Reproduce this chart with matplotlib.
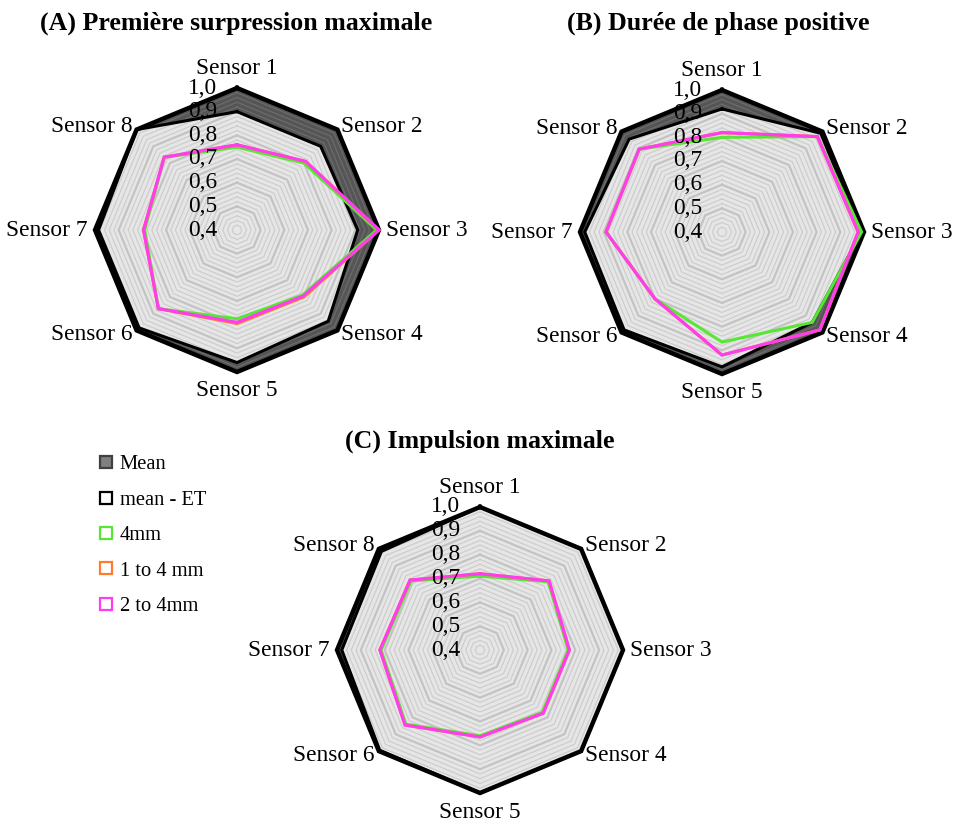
import numpy as np
import matplotlib
matplotlib.use('Agg')
import matplotlib.pyplot as plt
from matplotlib.lines import Line2D

plt.rcParams['font.family'] = ['Liberation Serif', 'DejaVu Serif']

sensors = ['Sensor 1', 'Sensor 2', 'Sensor 3', 'Sensor 4',
           'Sensor 5', 'Sensor 6', 'Sensor 7', 'Sensor 8']
tick_vals = [0.4, 0.5, 0.6, 0.7, 0.8, 0.9, 1.0]
tick_labels = ['0,4', '0,5', '0,6', '0,7', '0,8', '0,9', '1,0']

# (A) Première surpression maximale
mean_a = [1.0, 1.0, 1.0, 1.0, 1.0, 1.0, 1.0, 1.0]
mean_et_a = [0.90, 0.90, 0.91, 0.945, 0.96, 0.985, 0.985, 1.0]
mm4_a = [0.75, 0.80, 0.99, 0.79, 0.775, 0.87, 0.79, 0.835]
mm14_a = [0.76, 0.81, 1.0, 0.80, 0.795, 0.87, 0.795, 0.835]
mm24_a = [0.76, 0.81, 1.0, 0.795, 0.79, 0.87, 0.795, 0.835]

# (B) Durée de phase positive
mean_b = [1.0, 1.0, 1.0, 1.0, 1.0, 1.0, 1.0, 1.0]
mean_et_b = [0.92, 0.99, 0.99, 0.94, 0.97, 0.985, 0.98, 0.955]
mm4_b = [0.80, 0.97, 0.99, 0.94, 0.865, 0.80, 0.89, 0.895]
mm14_b = [0.82, 0.97, 0.975, 0.985, 0.92, 0.80, 0.89, 0.895]
mm24_b = [0.82, 0.97, 0.975, 0.985, 0.92, 0.80, 0.89, 0.895]

# (C) Impulsion maximale
mean_c = [1.0, 1.0, 1.0, 1.0, 1.0, 1.0, 1.0, 1.0]
mean_et_c = [1.0, 1.0, 1.0, 1.0, 1.0, 0.995, 0.98, 0.985]
mm4_c = [0.71, 0.805, 0.77, 0.77, 0.76, 0.84, 0.815, 0.81]
mm14_c = [0.72, 0.81, 0.775, 0.775, 0.765, 0.845, 0.82, 0.815]
mm24_c = [0.72, 0.81, 0.775, 0.775, 0.765, 0.845, 0.82, 0.815]

r_min, r_max = 0.4, 1.0
W, H = 954, 825
L = 1.5

c_green = '#58e634'
c_orange = '#ff7b2e'
c_magenta = '#ff3cf0'


def to_xy(vals):
    vals = np.asarray(vals, dtype=float)
    r = (vals - r_min) / (r_max - r_min)
    ang = np.pi / 2 - 2 * np.pi * np.arange(len(vals)) / len(vals)
    x = r * np.cos(ang)
    y = r * np.sin(ang)
    return np.append(x, x[0]), np.append(y, y[0])


def radar(fig, cx, cy, R, mean, mean_et, s4, s14, s24):
    ax = fig.add_axes([(cx - L * R) / W, 1 - (cy + L * R) / H,
                       2 * L * R / W, 2 * L * R / H])
    ax.set_xlim(-L, L)
    ax.set_ylim(-L, L)
    ax.axis('off')

    x, y = to_xy(mean)
    ax.fill(x, y, color='#555555', lw=0, zorder=1)
    x, y = to_xy(mean_et)
    ax.fill(x, y, color='#e6e6e6', lw=0, zorder=2)

    # gridlines (minor every 0.02, major every 0.1)
    for g in np.arange(0.42, 1.001, 0.02):
        gx, gy = to_xy([g] * 8)
        major = abs(g * 10 - round(g * 10)) < 1e-6
        ax.plot(gx, gy, color='#9a9a9a', lw=1.6 if major else 0.9,
                alpha=0.45 if major else 0.32, zorder=3)

    x, y = to_xy(mean_et)
    ax.plot(x, y, color='black', lw=2.2, zorder=4, solid_joinstyle='miter')
    x, y = to_xy(mean)
    ax.plot(x, y, color='black', lw=3.2, zorder=5, solid_joinstyle='miter')

    for vals, col in [(s4, c_green), (s14, c_orange), (s24, c_magenta)]:
        x, y = to_xy(vals)
        ax.plot(x, y, color=col, lw=2.2, zorder=6, solid_joinstyle='miter')

    # category labels
    vx, vy = to_xy([1.0] * 8)
    for i, name in enumerate(sensors):
        c = vx[i]
        s = vy[i]
        if abs(c) < 0.1:
            off = (0, 19 if s > 0 else -19)
            ha = 'center'
        elif abs(s) < 0.1:
            off = (7 if c > 0 else -7, 0)
            ha = 'left' if c > 0 else 'right'
        else:
            off = (4 if c > 0 else -4, 3 if s > 0 else -4)
            ha = 'left' if c > 0 else 'right'
        ax.annotate(name, xy=(vx[i], vy[i]), xytext=off,
                    textcoords='offset pixels', ha=ha, va='center',
                    fontsize=16.8, zorder=8)

    # value axis labels
    for v, lbl in zip(tick_vals, tick_labels):
        r = (v - r_min) / (r_max - r_min)
        ax.annotate(lbl, xy=(0, r), xytext=(-20, 0), textcoords='offset pixels',
                    ha='right', va='center', fontsize=16.8, zorder=7)
    return ax


fig = plt.figure(figsize=(W / 100, H / 100), dpi=100)

radar(fig, 237, 230, 142, mean_a, mean_et_a, mm4_a, mm14_a, mm24_a)
radar(fig, 722, 232, 142, mean_b, mean_et_b, mm4_b, mm14_b, mm24_b)
radar(fig, 480, 650, 143, mean_c, mean_et_c, mm4_c, mm14_c, mm24_c)

fig.text(236 / W, 1 - 23 / H, '(A) Première surpression maximale',
         ha='center', va='center', fontsize=18.6, fontweight='bold')
fig.text(718 / W, 1 - 23 / H, '(B) Durée de phase positive',
         ha='center', va='center', fontsize=18.6, fontweight='bold')
fig.text(480 / W, 1 - 441 / H, '(C) Impulsion maximale',
         ha='center', va='center', fontsize=18.6, fontweight='bold')

handles = [
    Line2D([], [], ls='', marker='s', markersize=8, markeredgewidth=1.6,
           markerfacecolor='#808080', markeredgecolor='#404040'),
    Line2D([], [], ls='', marker='s', markersize=8, markeredgewidth=1.6,
           markerfacecolor='white', markeredgecolor='black'),
    Line2D([], [], ls='', marker='s', markersize=8, markeredgewidth=1.6,
           markerfacecolor='white', markeredgecolor=c_green),
    Line2D([], [], ls='', marker='s', markersize=8, markeredgewidth=1.6,
           markerfacecolor='white', markeredgecolor=c_orange),
    Line2D([], [], ls='', marker='s', markersize=8, markeredgewidth=1.6,
           markerfacecolor='white', markeredgecolor=c_magenta),
]
labels = ['Mean', 'mean - ET', '4mm', '1 to 4 mm', '2 to 4mm']
fig.legend(handles, labels, loc='upper left', bbox_to_anchor=(99 / W, 1 - 455 / H),
           frameon=False, fontsize=14.8, handlelength=0.7, handletextpad=0.3,
           labelspacing=0.78, borderpad=0, borderaxespad=0)

fig.savefig('out.png', dpi=100)
